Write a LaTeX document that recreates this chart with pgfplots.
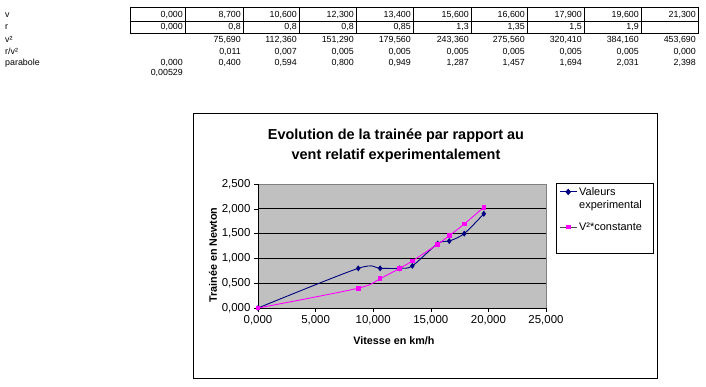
\documentclass[border=0pt]{standalone}
\usepackage{fontspec}
\setmainfont{Liberation Sans}
\usepackage{pgfplots}
\pgfplotsset{compat=1.18}
\definecolor{plotgray}{HTML}{C0C0C0}
\definecolor{navy}{HTML}{000080}
\definecolor{mag}{HTML}{FF00FF}
\newcommand\tabfont{\fontsize{8.9}{10}\selectfont}
\newcommand\cell[3]{\node[anchor=base east,inner sep=0pt,font=\tabfont] at (#1,#2) {#3};}
\newcommand\lab[2]{\node[anchor=base west,inner sep=0pt,font=\tabfont] at (5,#1) {#2};}
\begin{document}
\begin{tikzpicture}
\begin{scope}[x=1bp,y=-1bp]
\path (0,0) rectangle (706,386);
% table grid
\draw[line width=0.8bp] (130,7) rectangle (698,33);
\draw[line width=0.6bp] (130,21) -- (698,21);
\foreach \x in {185,243,299,356,413,471,527,584,641} \draw[line width=0.6bp] (\x,7)--(\x,33);
\lab{17.3}{v}
\lab{29.3}{r}
\lab{42.3}{v²}
\lab{54}{r/v²}
\lab{65.5}{parabole}
% row v
\cell{183}{17.3}{0,000}\cell{241}{17.3}{8,700}\cell{297}{17.3}{10,600}\cell{354}{17.3}{12,300}\cell{411}{17.3}{13,400}
\cell{469}{17.3}{15,600}\cell{525}{17.3}{16,600}\cell{582}{17.3}{17,900}\cell{639}{17.3}{19,600}\cell{696}{17.3}{21,300}
% row r
\cell{183}{29.3}{0,000}\cell{241}{29.3}{0,8}\cell{297}{29.3}{0,8}\cell{354}{29.3}{0,8}\cell{411}{29.3}{0,85}
\cell{469}{29.3}{1,3}\cell{525}{29.3}{1,35}\cell{582}{29.3}{1,5}\cell{639}{29.3}{1,9}
% row v2
\cell{241}{42.3}{75,690}\cell{297}{42.3}{112,360}\cell{354}{42.3}{151,290}\cell{411}{42.3}{179,560}
\cell{469}{42.3}{243,360}\cell{525}{42.3}{275,560}\cell{582}{42.3}{320,410}\cell{639}{42.3}{384,160}\cell{696}{42.3}{453,690}
% row r/v2
\cell{241}{54}{0,011}\cell{297}{54}{0,007}\cell{354}{54}{0,005}\cell{411}{54}{0,005}
\cell{469}{54}{0,005}\cell{525}{54}{0,005}\cell{582}{54}{0,005}\cell{639}{54}{0,005}\cell{696}{54}{0,000}
% row parabole
\cell{183}{65.5}{0,000}\cell{241}{65.5}{0,400}\cell{297}{65.5}{0,594}\cell{354}{65.5}{0,800}\cell{411}{65.5}{0,949}
\cell{469}{65.5}{1,287}\cell{525}{65.5}{1,457}\cell{582}{65.5}{1,694}\cell{639}{65.5}{2,031}\cell{696}{65.5}{2,398}
\cell{183}{75.5}{0,00529}
% chart frame
\draw[line width=0.8bp] (193,113) rectangle (657,378);
\node[font=\bfseries\fontsize{14.5}{20}\selectfont, align=center] at (396,146) {Evolution de la trainée par rapport au\\vent relatif experimentalement};
% legend frame
\draw[line width=0.8bp] (556,183) rectangle (653,253);
\end{scope}
\begin{axis}[
  at={(258bp,-308bp)}, anchor=south west,
  scale only axis, width=288bp, height=124bp,
  xmin=0, xmax=25, ymin=0, ymax=2.5,
  xtick={0,5,...,25}, ytick={0,0.5,...,2.5},
  axis x line*=bottom, axis y line*=left,
  axis line style={-, black, line width=0.8bp},
  axis background/.style={fill=plotgray, draw=gray, line width=0.8bp},
  tick align=outside, major tick length=4bp,
  tick style={black, line width=0.6bp},
  ticklabel style={font=\fontsize{11.5}{13}\selectfont},
  /pgf/number format/.cd, fixed, fixed zerofill, precision=3, use comma, 1000 sep={}, assume math mode=true,
  /pgfplots/.cd,
  xlabel={Vitesse en km/h}, ylabel={Trainée en Newton},
  label style={font=\bfseries\fontsize{10.8}{12}\selectfont},
  xlabel style={at={(axis description cs:0.472,-0.266)}, anchor=center},
  ylabel style={at={(axis description cs:-0.156,0.427)}, anchor=center, rotate=0},
  legend style={at={(1.035,1.008)}, anchor=north west, draw=none, fill=none,
     font=\fontsize{11}{13}\selectfont, cells={anchor=west, align=left}, row sep=9bp},
  clip=false,
]
\pgfplotsinvokeforeach{0.5,1,1.5,2}{\draw[black, line width=0.7bp] (axis cs:0,#1) -- (axis cs:25,#1);}
\addplot[navy, line width=0.9bp, smooth, tension=0.5, mark=diamond*, mark size=2.3bp, mark options={fill=navy, draw=navy},
  legend image code/.code={%
    \pgfpathmoveto{\pgfpoint{0.3cm}{-6.5bp}}\pgfpathlineto{\pgfpoint{0.3cm}{6.5bp}}\pgfusepath{}%
    \draw[navy, line width=0.9bp] (0cm,6.5bp) -- (0.6cm,6.5bp);
    \fill[navy] (0.3cm,6.5bp+2.6bp) -- (0.3cm+2.2bp,6.5bp) -- (0.3cm,6.5bp-2.6bp) -- (0.3cm-2.2bp,6.5bp) -- cycle;}] coordinates {
(0,0) (8.7,0.8) (10.6,0.8) (12.3,0.8) (13.4,0.85) (15.6,1.3) (16.6,1.35) (17.9,1.5) (19.6,1.9)};
\addlegendentry{Valeurs\\experimental}
\addplot[mag, line width=0.9bp, smooth, tension=0.5, mark=square*, mark size=1.8bp, mark options={fill=mag, draw=mag},
  legend image code/.code={\draw[gray!60!black, line width=0.9bp] (0cm,0cm) -- (0.6cm,0cm);
    \fill[mag] (0.3cm-1.8bp,-1.8bp) rectangle (0.3cm+1.8bp,1.8bp);}] coordinates {
(0,0) (8.7,0.4) (10.6,0.594) (12.3,0.8) (13.4,0.949) (15.6,1.287) (16.6,1.457) (17.9,1.694) (19.6,2.031)};
\addlegendentry{V²*constante}
\end{axis}
\end{tikzpicture}
\end{document}
